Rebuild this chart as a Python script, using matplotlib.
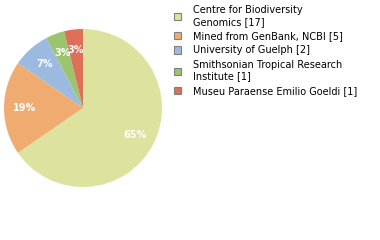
import matplotlib
matplotlib.use("Agg")
import matplotlib.pyplot as plt
from matplotlib.patches import Patch

# Datos
labels = ['Centre for Biodiversity\nGenomics', 'Mined from GenBank, NCBI',
          'University of Guelph', 'Smithsonian Tropical Research\nInstitute',
          'Museu Paraense Emilio Goeldi']
counts = [17, 5, 2, 1, 1]
colors = ['#dde39f', '#f0ac70', '#9cbae0', '#9cc46f', '#dc7058']

fig = plt.figure(figsize=(3.8, 2.4), dpi=100)
ax = fig.add_axes([4 / 380, 1 - 187 / 240, 158 / 380, 158 / 240])

wedges, texts, autotexts = ax.pie(
    counts, colors=colors, startangle=90, counterclock=False,
    autopct=lambda p: '%d%%' % int(p + 1e-9), pctdistance=0.74,
    textprops=dict(color='white', fontsize=7, fontweight='bold'),
    wedgeprops=dict(linewidth=0))
ax.set_xlim(-1, 1)
ax.set_ylim(-1, 1)
ax.set_aspect('equal')

# Leyenda
handles = [Patch(facecolor=c, edgecolor='#808080', linewidth=0.8) for c in colors]
leg_labels = ['%s [%d]' % (l, n) for l, n in zip(labels, counts)]
fig.legend(handles, leg_labels, loc='upper left', bbox_to_anchor=(174 / 380, 1 - 5 / 240),
           frameon=False, fontsize=7, handlelength=0.75, handleheight=0.75,
           handletextpad=1.2, labelspacing=0.45, borderpad=0, borderaxespad=0)

fig.savefig('out.png', dpi=100)
